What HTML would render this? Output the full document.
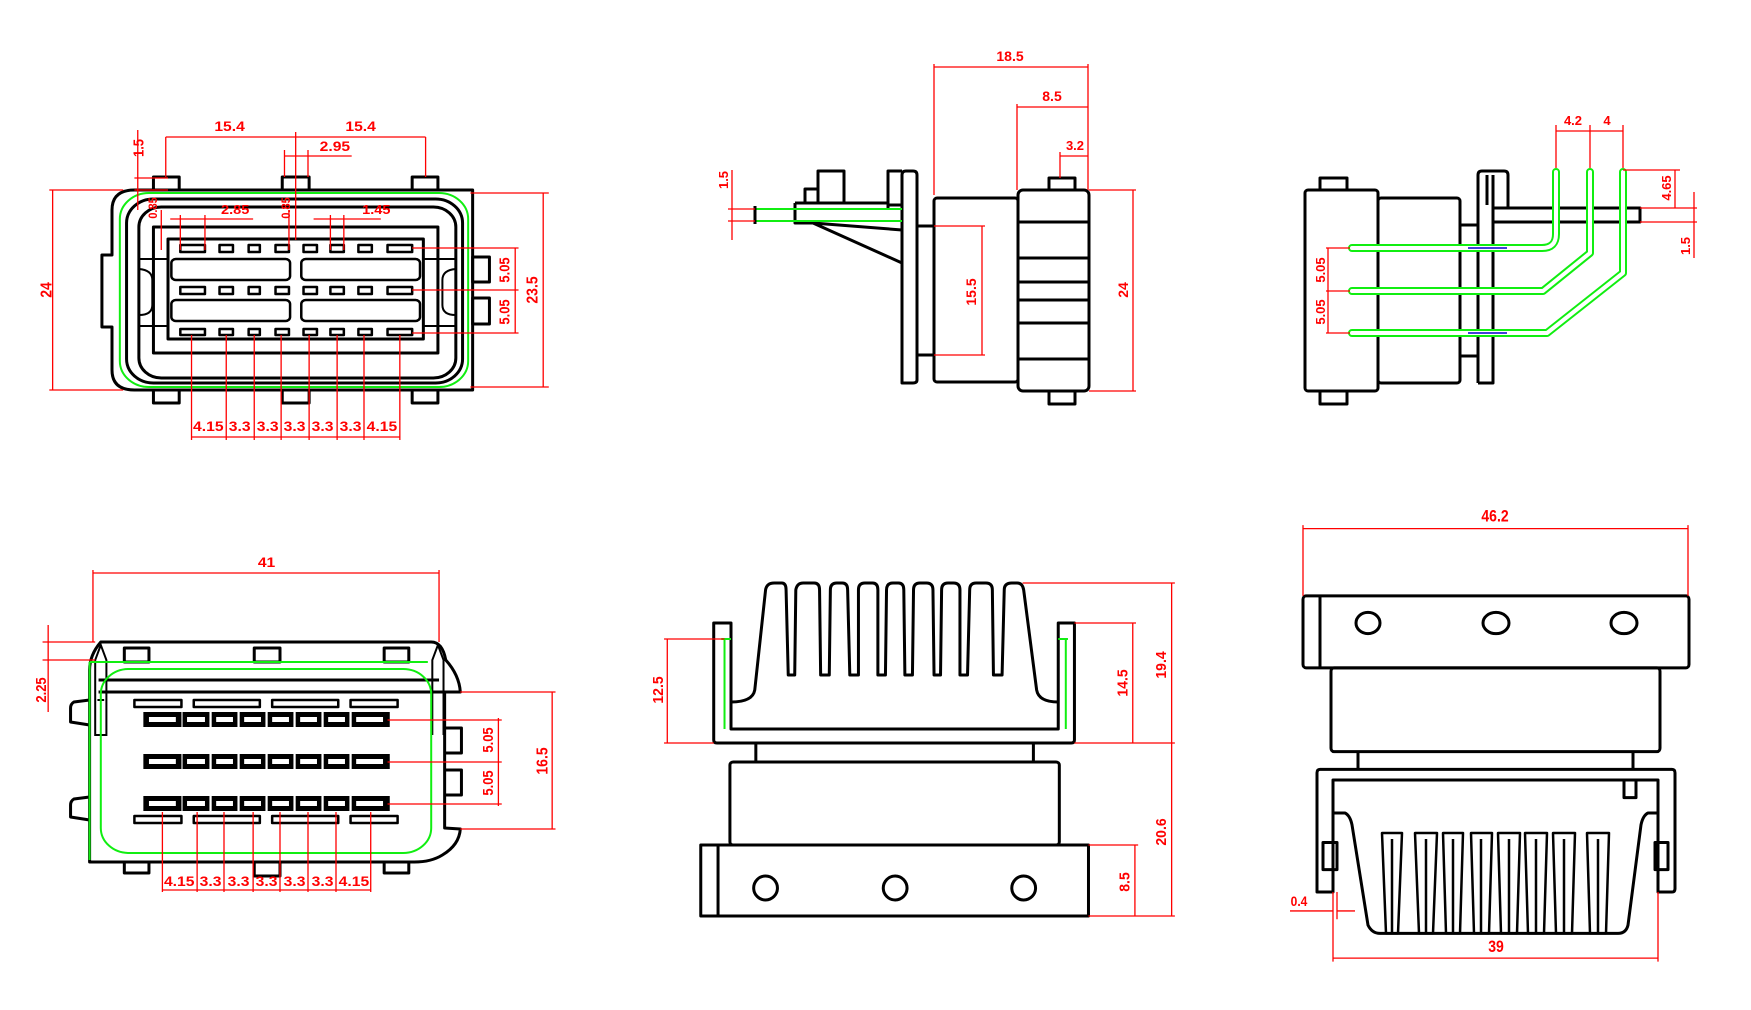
<!DOCTYPE html>
<html><head><meta charset="utf-8"><style>
html,body{margin:0;padding:0;background:#fff;}
svg{display:block}
.k{fill:none;stroke:#000;stroke-width:3;stroke-linejoin:round}
.kt{fill:none;stroke:#000;stroke-width:2}
.r{fill:none;stroke:#f00;stroke-width:1.3}
.g{fill:none;stroke:#1e1;stroke-width:2}
path,rect,circle,ellipse{vector-effect:non-scaling-stroke}
text{font-family:"Liberation Sans",sans-serif;font-size:14px;font-weight:bold;fill:#f00;text-anchor:middle}
</style></head><body>
<svg width="1751" height="1010" viewBox="0 0 1751 1010" xmlns="http://www.w3.org/2000/svg">
<!-- ========== VIEW 1 (top-left) ========== -->
<g transform="matrix(1.12,0,0,1,0,0)">
<rect class="k" x="137" y="177" width="23" height="13"/>
<rect class="k" x="252" y="177" width="24" height="13"/>
<rect class="k" x="368" y="177" width="23" height="13"/>
<rect class="k" x="137" y="390" width="23" height="13"/>
<rect class="k" x="252" y="390" width="24" height="13"/>
<rect class="k" x="368" y="390" width="23" height="13"/>
<path class="k" d="M120,190 L422,190 L422,390 L120,390 Q100,390 100,370 L100,327 L91,327 L91,255 L100,255 L100,210 Q100,190 120,190 Z"/>
<rect class="k" x="422" y="257" width="15" height="25"/>
<rect class="k" x="422" y="298" width="15" height="26"/>
<rect class="g" x="107" y="193" width="311" height="194" rx="26"/>
<rect class="k" x="113" y="199" width="300" height="184" rx="24"/>
<rect class="k" x="124" y="207" width="283" height="171" rx="20"/>
<path class="k" d="M137,227 L391,227 L391,353 L137,353 Z"/>
<rect class="k" x="150" y="239" width="228" height="100"/>
<path class="kt" d="M124,259 L150,259 M124,326 L150,326 M378,259 L407,259 M378,326 L407,326"/>
<path class="kt" d="M124,269 Q136,270 136,280 L136,305 Q136,315 124,315 M407,269 Q395,270 395,280 L395,305 Q395,315 407,315"/>
<g class="k" style="stroke-width:2.5">
<rect x="161" y="245" width="22" height="7"/><rect x="196" y="245" width="12" height="7"/><rect x="222" y="245" width="10" height="7"/><rect x="246" y="245" width="12" height="7"/><rect x="271" y="245" width="12" height="7"/><rect x="295" y="245" width="12" height="7"/><rect x="320" y="245" width="12" height="7"/><rect x="346" y="245" width="22" height="7"/>
<rect x="161" y="287" width="22" height="7"/><rect x="196" y="287" width="12" height="7"/><rect x="222" y="287" width="10" height="7"/><rect x="246" y="287" width="12" height="7"/><rect x="271" y="287" width="12" height="7"/><rect x="295" y="287" width="12" height="7"/><rect x="320" y="287" width="12" height="7"/><rect x="346" y="287" width="22" height="7"/>
<rect x="161" y="329" width="22" height="6"/><rect x="196" y="329" width="12" height="6"/><rect x="222" y="329" width="10" height="6"/><rect x="246" y="329" width="12" height="6"/><rect x="271" y="329" width="12" height="6"/><rect x="295" y="329" width="12" height="6"/><rect x="320" y="329" width="12" height="6"/><rect x="346" y="329" width="22" height="6"/>
<rect x="153" y="259" width="106" height="21" rx="4"/><rect x="269" y="259" width="106" height="21" rx="4"/>
<rect x="153" y="300" width="106" height="21" rx="4"/><rect x="269" y="300" width="106" height="21" rx="4"/>
</g>
<path class="r" d="M148,137 L380,137 M148,137 L148,177 M264,132 L264,240 M380,137 L380,177 M254,156 L314,156 M254,150 L254,177 M275,150 L275,177 M123,130 L123,210 M120,178 L150,178 M120,190 L150,190"/>
<path class="r" d="M47,190 L47,390 M44,190 L110,190 M44,390 L110,390 M485,193 L485,387 M420,193 L490,193 M420,387 L490,387"/>
<path class="r" d="M460,248 L460,333 M368,248 L463,248 M368,290 L463,290 M368,333 L463,333 M152,219 L226,219 M161,215 L161,250 M183,215 L183,250 M280,219 L340,219 M295,215 L295,250 M307,215 L307,250 M144,210 L144,250 M258,210 L258,250"/>
<path class="r" d="M171,335 L171,440 M202,335 L202,440 M227,335 L227,440 M251,335 L251,440 M276,335 L276,440 M301,335 L301,440 M325,335 L325,440 M357,335 L357,440 M171,437 L357,437"/>
<text x="205" y="131">15.4</text><text x="322" y="131">15.4</text><text x="299" y="151">2.95</text>
<text x="210" y="214" style="font-size:13px">2.85</text><text x="336" y="214" style="font-size:13px">1.45</text>
<text transform="translate(128,148) rotate(-90)" style="font-size:13px">1.5</text>
<text transform="translate(140,208) rotate(-90)" style="font-size:11px">0.85</text>
<text transform="translate(259,208) rotate(-90)" style="font-size:11px">0.85</text>
<text transform="translate(46,290) rotate(-90)">24</text>
<text transform="translate(480,290) rotate(-90)">23.5</text>
<text transform="translate(455,270) rotate(-90)" style="font-size:13px">5.05</text>
<text transform="translate(455,312) rotate(-90)" style="font-size:13px">5.05</text>
<g style="font-size:13px"><text x="186" y="431">4.15</text><text x="214" y="431">3.3</text><text x="239" y="431">3.3</text><text x="263" y="431">3.3</text><text x="288" y="431">3.3</text><text x="313" y="431">3.3</text><text x="341" y="431">4.15</text></g>
</g>

<!-- ========== VIEW 2 (top-middle) ========== -->
<g>
<rect class="k" x="1049" y="178" width="26" height="12"/>
<rect class="k" x="1049" y="391" width="26" height="13"/>
<rect class="k" x="1018" y="190" width="71" height="201" rx="5"/>
<path class="k" d="M1018,222 L1089,222 M1018,258 L1089,258 M1018,282 L1089,282 M1018,300 L1089,300 M1018,323 L1089,323 M1018,359 L1089,359"/>
<rect class="k" x="934" y="198" width="84" height="184" rx="3"/>
<path class="k" d="M917,226 L934,226 M917,355 L934,355"/>
<path class="k" d="M902,383 L902,175 Q902,171 906,171 L913,171 Q917,171 917,175 L917,380 Q917,383 913,383 Z"/>
<path class="k" d="M902,205 L888,205 L888,171 L902,171 M888,203 L888,210"/>
<path class="k" d="M795,203 L888,203 M795,203 L795,223 L813,223 L902,230 M813,223 L902,263"/>
<path class="k" d="M818,203 L818,171 L844,171 L844,203 M805,203 L805,189 L818,189"/>
<path class="g" d="M755,209 L902,209 M755,221 L902,221"/>
<path class="k" d="M755,206 L755,224"/>
<path class="r" d="M934,64 L934,195 M1088,64 L1088,190 M934,67 L1088,67 M1017,104 L1017,190 M1017,107 L1088,107 M1060,152 L1060,178 M1060,156 L1088,156"/>
<path class="r" d="M732,170 L732,240 M728,209 L755,209 M728,221 L755,221 M982,226 L982,355 M934,226 L985,226 M934,355 L985,355 M1133,190 L1133,391 M1089,190 L1136,190 M1089,391 L1136,391"/>
<text x="1010" y="61">18.5</text><text x="1052" y="101">8.5</text><text x="1075" y="150" style="font-size:13px">3.2</text>
<text transform="translate(728,180) rotate(-90)" style="font-size:13px">1.5</text>
<text transform="translate(976,292) rotate(-90)">15.5</text>
<text transform="translate(1128,290) rotate(-90)">24</text>
</g>

<!-- ========== VIEW 3 (top-right) ========== -->
<g>
<rect class="k" x="1320" y="178" width="27" height="12"/>
<rect class="k" x="1320" y="391" width="27" height="13"/>
<rect class="k" x="1305" y="190" width="73" height="201" rx="3"/>
<rect class="k" x="1378" y="198" width="82" height="185" rx="3"/>
<path class="k" d="M1460,225 L1478,225 M1460,356 L1478,356"/>
<path class="k" d="M1478,383 L1478,175 Q1478,171 1482,171 L1504,171 Q1508,171 1508,175 L1508,208 M1493,175 L1493,383 L1478,383 M1487,175 L1487,205"/>
<rect class="k" x="1493" y="208" width="147" height="14"/>
<g fill="none" stroke-linejoin="round" stroke-linecap="round">
<path stroke="#1e1" stroke-width="8" d="M1352,248 L1542,248 Q1556,248 1556,234 L1556,172"/>
<path stroke="#1e1" stroke-width="8" d="M1352,291 L1543,291 L1590,253 L1590,172"/>
<path stroke="#1e1" stroke-width="8" d="M1352,333 L1547,333 L1623,273 L1623,172"/>
<path stroke="#fff" stroke-width="4" d="M1352,248 L1542,248 Q1556,248 1556,234 L1556,172"/>
<path stroke="#fff" stroke-width="4" d="M1352,291 L1543,291 L1590,253 L1590,172"/>
<path stroke="#fff" stroke-width="4" d="M1352,333 L1547,333 L1623,273 L1623,172"/>
</g>
<path d="M1468,248 L1507,248 M1468,333 L1507,333" stroke="#00c" stroke-width="1.5"/>
<path class="r" d="M1556,125 L1556,168 M1590,125 L1590,168 M1623,125 L1623,168 M1556,131 L1623,131 M1623,170 L1680,170 M1675,170 L1675,208 M1640,208 L1697,208 M1640,222 L1697,222 M1694,192 L1694,258 M1328,248 L1328,333 M1326,248 L1350,248 M1326,291 L1350,291 M1326,333 L1350,333"/>
<text x="1573" y="125" style="font-size:13px">4.2</text><text x="1607" y="125" style="font-size:13px">4</text>
<text transform="translate(1671,188) rotate(-90)" style="font-size:13px">4.65</text>
<text transform="translate(1690,246) rotate(-90)" style="font-size:13px">1.5</text>
<text transform="translate(1325,270) rotate(-90)" style="font-size:13px">5.05</text>
<text transform="translate(1325,312) rotate(-90)" style="font-size:13px">5.05</text>
</g>

<!-- ========== VIEW 4 (bottom-left) ========== -->
<g transform="matrix(1.12,0,0,1,0,0)">
<rect class="k" x="111" y="648" width="22" height="14"/>
<rect class="k" x="227" y="648" width="23" height="14"/>
<rect class="k" x="343" y="648" width="22" height="14"/>
<rect class="k" x="111" y="862" width="22" height="11"/>
<rect class="k" x="227" y="862" width="23" height="14"/>
<rect class="k" x="343" y="862" width="22" height="11"/>
<path class="k" d="M98,642 L385,642 Q395,642 398,660 Q410,675 411,692 L397,692 L397,828 L411,829 Q410,845 395,855 Q385,862 370,862 L80,862 L80,670 Q80,655 90,642 Z"/>
<path class="k" d="M80,700 L66,702 Q63,704 63,708 L63,722 L80,725 M80,797 L66,799 Q63,801 63,805 L63,817 L80,820"/>
<path class="k" d="M397,728 L412,728 L412,753 L397,753 M397,770 L412,770 L412,795 L397,795"/>
<path class="k" d="M88,680 L392,680 M88,692 L397,692"/>
<path class="kt" d="M85,735 L85,660 L90,645 L95,660 L95,735 Z M87,700 L93,700 M386,735 L386,660 L391,645 L396,660 L396,735"/>
<path class="g" d="M80,662 L382,662 M80,662 L80,860"/>
<rect class="g" x="90" y="669" width="295" height="184" rx="25"/>
<g class="k" style="stroke-width:2.5">
<rect x="120" y="700" width="42" height="7"/><rect x="173" y="700" width="59" height="7"/><rect x="243" y="700" width="59" height="7"/><rect x="313" y="700" width="42" height="7"/>
<rect x="120" y="816" width="42" height="7"/><rect x="173" y="816" width="59" height="7"/><rect x="243" y="816" width="59" height="7"/><rect x="313" y="816" width="42" height="7"/>
</g>
<g fill="#000">
<rect x="128" y="712" width="34" height="15"/><rect x="163" y="712" width="24" height="15"/><rect x="189" y="712" width="23" height="15"/><rect x="214" y="712" width="23" height="15"/><rect x="239" y="712" width="23" height="15"/><rect x="264" y="712" width="23" height="15"/><rect x="289" y="712" width="23" height="15"/><rect x="314" y="712" width="34" height="15"/>
<rect x="128" y="754" width="34" height="15"/><rect x="163" y="754" width="24" height="15"/><rect x="189" y="754" width="23" height="15"/><rect x="214" y="754" width="23" height="15"/><rect x="239" y="754" width="23" height="15"/><rect x="264" y="754" width="23" height="15"/><rect x="289" y="754" width="23" height="15"/><rect x="314" y="754" width="34" height="15"/>
<rect x="128" y="796" width="34" height="15"/><rect x="163" y="796" width="24" height="15"/><rect x="189" y="796" width="23" height="15"/><rect x="214" y="796" width="23" height="15"/><rect x="239" y="796" width="23" height="15"/><rect x="264" y="796" width="23" height="15"/><rect x="289" y="796" width="23" height="15"/><rect x="314" y="796" width="34" height="15"/>
</g>
<g fill="#fff">
<rect x="133" y="717" width="24" height="5"/><rect x="167" y="717" width="16" height="5"/><rect x="193" y="717" width="15" height="5"/><rect x="218" y="717" width="15" height="5"/><rect x="243" y="717" width="15" height="5"/><rect x="268" y="717" width="15" height="5"/><rect x="293" y="717" width="15" height="5"/><rect x="318" y="717" width="24" height="5"/>
<rect x="133" y="759" width="24" height="5"/><rect x="167" y="759" width="16" height="5"/><rect x="193" y="759" width="15" height="5"/><rect x="218" y="759" width="15" height="5"/><rect x="243" y="759" width="15" height="5"/><rect x="268" y="759" width="15" height="5"/><rect x="293" y="759" width="15" height="5"/><rect x="318" y="759" width="24" height="5"/>
<rect x="133" y="801" width="24" height="5"/><rect x="167" y="801" width="16" height="5"/><rect x="193" y="801" width="15" height="5"/><rect x="218" y="801" width="15" height="5"/><rect x="243" y="801" width="15" height="5"/><rect x="268" y="801" width="15" height="5"/><rect x="293" y="801" width="15" height="5"/><rect x="318" y="801" width="24" height="5"/>
</g>
<path class="r" d="M83,570 L83,642 M392,570 L392,642 M83,573 L392,573 M43,625 L43,712 M38,642 L85,642 M38,660 L85,660"/>
<path class="r" d="M445,718 L445,806 M346,720 L448,720 M346,762 L448,762 M346,804 L448,804 M493,692 L493,829 M411,692 L496,692 M411,829 L496,829"/>
<path class="r" d="M145,812 L145,892 M176,812 L176,892 M200,812 L200,892 M226,812 L226,892 M250,812 L250,892 M275,812 L275,892 M300,812 L300,892 M331,812 L331,892 M145,890 L331,890"/>
<text x="238" y="567">41</text>
<text transform="translate(41,690) rotate(-90)" style="font-size:13px">2.25</text>
<text transform="translate(440,740) rotate(-90)" style="font-size:13px">5.05</text>
<text transform="translate(440,783) rotate(-90)" style="font-size:13px">5.05</text>
<text transform="translate(489,761) rotate(-90)">16.5</text>
<g style="font-size:13px"><text x="160" y="886">4.15</text><text x="188" y="886">3.3</text><text x="213" y="886">3.3</text><text x="238" y="886">3.3</text><text x="263" y="886">3.3</text><text x="288" y="886">3.3</text><text x="316" y="886">4.15</text></g>
</g>

<!-- ========== VIEW 5 (bottom-middle) ========== -->
<g transform="matrix(1.08,0,0,1,-52,0)">
<path class="k" d="M709,623 L725,623 L725,729 L1028,729 L1028,623 L1043,623 L1043,740 Q1043,743 1040,743 L712,743 Q709,743 709,740 Z"/>
<path class="k" d="M725,702 Q745,702 747,690 L757,590 Q758,583 765,583 L772,583 Q776,583 776,590 L778,675 L784,675 L785,590 Q786,583 792,583 L802,583 Q807,583 807,590 L808,675 L816,675 L817,590 Q817,583 823,583 L828,583 Q833,583 833,590 L835,675 L843,675 L843,590 Q843,583 849,583 L856,583 Q861,583 861,590 L861,675 L868,675 L869,590 Q869,583 875,583 L880,583 Q885,583 885,590 L886,675 L893,675 L894,590 Q894,583 900,583 L906,583 Q912,583 912,590 L913,675 L919,675 L920,590 Q920,583 926,583 L931,583 Q937,583 937,590 L937,675 L944,675 L946,590 Q946,583 952,583 L961,583 Q967,583 967,590 L968,675 L976,675 L978,590 Q978,583 985,583 L990,583 Q995,583 996,590 L1008,690 Q1010,702 1028,702"/>
<path class="g" d="M719,639 L719,729 M716,639 L725,639 M1035,639 L1035,729 M1028,639 L1037,639"/>
<path class="k" d="M748,743 L748,762 M1005,743 L1005,762"/>
<rect class="k" x="724" y="762" width="305" height="83" rx="3"/>
<rect class="k" x="697" y="845" width="359" height="71"/>
<path class="k" d="M713,845 L713,916"/>
<ellipse class="k" cx="757" cy="888" rx="11" ry="12"/><ellipse class="k" cx="877" cy="888" rx="11" ry="12"/><ellipse class="k" cx="996" cy="888" rx="11" ry="12"/>
<path class="r" d="M666,639 L666,743 M663,639 L719,639 M663,743 L709,743 M995,583 L1136,583 M1043,623 L1100,623 M1043,743 L1136,743 M1097,623 L1097,743 M1133,583 L1133,916 M1056,845 L1102,845 M1056,916 L1136,916 M1099,845 L1099,916"/>
<text transform="translate(662,690) rotate(-90)">12.5</text>
<text transform="translate(1092,683) rotate(-90)">14.5</text>
<text transform="translate(1128,665) rotate(-90)">19.4</text>
<text transform="translate(1128,832) rotate(-90)">20.6</text>
<text transform="translate(1094,882) rotate(-90)">8.5</text>
</g>

<!-- ========== VIEW 6 (bottom-right) ========== -->
<g transform="matrix(1,0,0,1.18,0,-72)">
<rect class="k" x="1303" y="566" width="386" height="61" rx="3"/>
<path class="k" d="M1320,566 L1320,627"/>
<ellipse class="k" cx="1368" cy="589" rx="12" ry="9"/><ellipse class="k" cx="1496" cy="589" rx="13" ry="9"/><ellipse class="k" cx="1624" cy="589" rx="13" ry="9"/>
<rect class="k" x="1331" y="627" width="329" height="71" rx="3"/>
<path class="k" d="M1358,698 L1358,713 M1633,698 L1633,713"/>
<path class="k" d="M1317,817 L1317,716 Q1317,713 1320,713 L1672,713 Q1675,713 1675,716 L1675,814 Q1675,817 1672,817 L1658,817 L1658,722 L1333,722 L1333,817 Z"/>
<path class="k" d="M1624,722 L1624,737 L1636,737 L1636,722"/>
<rect class="k" x="1323" y="775" width="14" height="23"/><rect class="k" x="1655" y="775" width="13" height="23"/>
<path class="k" d="M1333,750 L1345,750 Q1350,752 1352,760 L1368,845 Q1372,852 1380,852 L1618,852 Q1626,852 1628,845 L1641,760 Q1643,752 1648,750 L1658,750"/>
<g class="k" style="stroke-width:2.5">
<path d="M1382,767 L1402,767 L1398,852 L1386,852 Z M1392,772 L1392,852"/>
<path d="M1415,767 L1437,767 L1433,852 L1419,852 Z M1426,772 L1426,852"/>
<path d="M1443,767 L1463,767 L1460,852 L1446,852 Z M1453,772 L1453,852"/>
<path d="M1471,767 L1492,767 L1489,852 L1474,852 Z M1481,772 L1481,852"/>
<path d="M1498,767 L1520,767 L1517,852 L1501,852 Z M1509,772 L1509,852"/>
<path d="M1525,767 L1547,767 L1544,852 L1528,852 Z M1536,772 L1536,852"/>
<path d="M1553,767 L1575,767 L1572,852 L1556,852 Z M1564,772 L1564,852"/>
<path d="M1587,767 L1609,767 L1606,852 L1590,852 Z M1598,772 L1598,852"/>
</g>
<path class="r" d="M1303,506 L1303,566 M1688,506 L1688,566 M1303,509 L1688,509 M1333,817 L1333,876 M1337,817 L1337,840 M1658,817 L1658,876 M1333,873 L1658,873 M1290,833 L1333,833 M1337,833 L1355,833"/>
<text x="1495" y="503">46.2</text>
<text x="1496" y="868">39</text>
<text x="1299" y="829" style="font-size:12px">0.4</text>
</g>
</svg>
</body></html>
